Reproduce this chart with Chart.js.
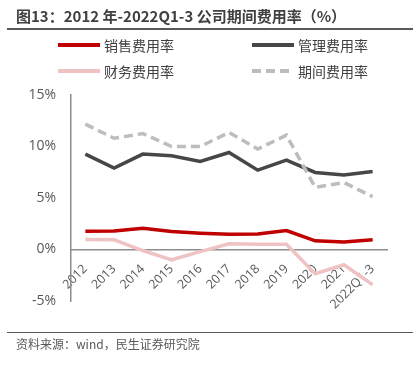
<!DOCTYPE html>
<html lang="zh">
<head>
<meta charset="UTF-8">
<title>2012年-2022Q1-3 公司期间费用率</title>
<script src="https://cdn.jsdelivr.net/npm/chart.js"></script>
<style>
    body { margin: 0; background: #fff; font-family: "Noto Sans CJK SC", "Noto Sans", sans-serif; }
    #wrap { position: relative; width: 419px; height: 368px; overflow: hidden; }
    #chart { position: absolute; left: 0; top: 0; }
    #title { position: absolute; left: 16px; top: 6px; font-size: 15px; font-weight: bold; color: #404040; white-space: nowrap; line-height: 20px; }
    .rule { position: absolute; left: 7px; width: 406px; background: #595959; }
    #footer { position: absolute; left: 16px; top: 336px; font-size: 12px; color: #595959; white-space: nowrap; line-height: 16px; }
    .item { position: absolute; height: 20px; display: flex; align-items: center; font-size: 14px; color: #404040; white-space: nowrap; }
    .swatch { width: 42px; height: 4px; margin-right: 4px; }
</style>
</head>
<body>
<div id="wrap">
    <canvas id="chart" width="419" height="368"></canvas>
    <div id="title">图13：2012 年-2022Q1-3 公司期间费用率（%）</div>
    <div class="rule" style="top:28px;height:2px;"></div>
    <div id="legend"></div>
    <div class="rule" style="top:332px;height:1px;"></div>
    <div id="footer">资料来源：wind，民生证券研究院</div>
</div>

<script>
    const categories = ['2012', '2013', '2014', '2015', '2016', '2017', '2018', '2019', '2020', '2021', '2022Q1-3'];
    const salesRate = [1.77, 1.80, 2.06, 1.74, 1.58, 1.48, 1.50, 1.84, 0.84, 0.74, 0.94];
    const adminRate = [9.26, 7.90, 9.26, 9.10, 8.55, 9.42, 7.70, 8.68, 7.48, 7.23, 7.58];
    const financeRate = [0.97, 0.94, -0.10, -1.00, -0.20, 0.55, 0.50, 0.50, -2.35, -1.48, -3.42];
    const periodRate = [12.17, 10.80, 11.26, 10.00, 10.00, 11.36, 9.75, 11.10, 6.03, 6.50, 5.13];
    const yTicks = [-5, 0, 5, 10, 15];

    const font = '"Open Sans", "Noto Sans", sans-serif';

    function line(label, data, color, dash, order) {
        return {
            label: label,
            data: data,
            borderColor: color,
            backgroundColor: color,
            borderWidth: 3.5,
            borderDash: dash,
            pointRadius: 0,
            tension: 0,
            fill: false,
            order: order
        };
    }

    const ctx = document.getElementById('chart').getContext('2d');
    const chart = new Chart(ctx, {
        type: 'line',
        data: {
            labels: categories,
            datasets: [
                line('销售费用率', salesRate, '#C00000', [], 4),
                line('管理费用率', adminRate, '#474747', [], 3),
                line('财务费用率', financeRate, '#EFC3C3', [], 2),
                line('期间费用率', periodRate, '#BDBDBD', [9, 5], 1)
            ]
        },
        options: {
            responsive: false,
            animation: false,
            layout: { padding: { top: 95, right: 32, bottom: 67, left: 0 } },
            plugins: {
                legend: { display: false },
                tooltip: { enabled: false }
            },
            scales: {
                x: {
                    position: { y: 0 },
                    offset: true,
                    grid: { display: false, drawTicks: false },
                    border: { display: true, color: '#8C8C8C', width: 1.5 },
                    ticks: {
                        autoSkip: false,
                        minRotation: 45,
                        maxRotation: 45,
                        padding: 12,
                        color: '#595959',
                        font: { family: font, size: 12.5 }
                    }
                },
                y: {
                    min: -5,
                    max: 15,
                    afterFit: scale => { scale.width = 71; },
                    afterBuildTicks: scale => { scale.ticks = yTicks.map(v => ({ value: v })); },
                    grid: { display: false, drawTicks: false },
                    border: { display: true, color: '#8C8C8C', width: 1.5 },
                    ticks: {
                        padding: 15,
                        color: '#595959',
                        font: { family: font, size: 14 },
                        callback: v => v + '%'
                    }
                }
            }
        }
    });

    // legend in two columns, built from the datasets
    const legendPos = [[58, 35], [252, 35], [58, 61], [252, 61]];
    const legend = document.getElementById('legend');
    chart.data.datasets.forEach((ds, i) => {
        const item = document.createElement('div');
        item.className = 'item';
        item.style.left = legendPos[i][0] + 'px';
        item.style.top = legendPos[i][1] + 'px';
        const sw = document.createElement('span');
        sw.className = 'swatch';
        if (ds.borderDash.length) {
            sw.style.background = 'repeating-linear-gradient(90deg, ' + ds.borderColor + ' 0 9px, transparent 9px 14px)';
        } else {
            sw.style.background = ds.borderColor;
        }
        item.appendChild(sw);
        item.appendChild(document.createTextNode(ds.label));
        legend.appendChild(item);
    });
</script>
</body>
</html>
